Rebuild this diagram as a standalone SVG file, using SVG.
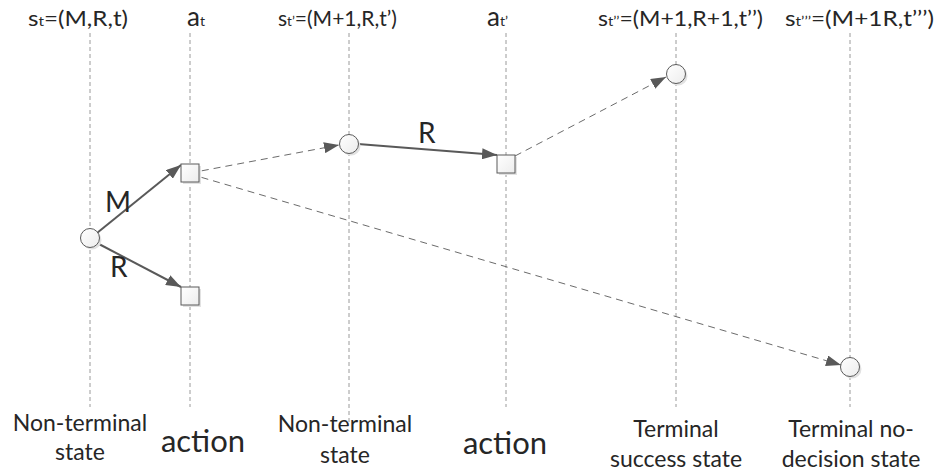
<svg xmlns="http://www.w3.org/2000/svg" width="938" height="475" viewBox="0 0 938 475">
<defs>
<marker id="ah" markerWidth="15" markerHeight="11" refX="15" refY="5.5" orient="auto" markerUnits="userSpaceOnUse">
<path d="M0,0 L15,5.5 L0,11 Z" fill="#595959"/>
</marker>
<linearGradient id="g" x1="0" y1="0" x2="1" y2="1">
<stop offset="0" stop-color="#ffffff"/>
<stop offset="1" stop-color="#ececec"/>
</linearGradient>
<style>
.t{font-family:Lato,"Liberation Sans",sans-serif;fill:#262626}
.top{font-size:22px}
.sub{font-size:14px}
.bl{font-size:23px;text-anchor:middle}
.act{font-size:31px;text-anchor:middle}
.lab{font-size:28px}
.vl{stroke:#9a9a9a;stroke-width:1;stroke-dasharray:4,3;fill:none}
.solid{stroke:#595959;stroke-width:2;fill:none;marker-end:url(#ah)}
.dash{stroke:#6b6b6b;stroke-width:1;stroke-dasharray:7,5;fill:none;marker-end:url(#ah)}
.nd{fill:url(#g);stroke:#5a5a5a;stroke-width:1}
.sh{fill:#e2e2e2}
</style>
</defs>
<g id="lifelines">
<line class="vl" x1="90" y1="33" x2="90" y2="407"/>
<line class="vl" x1="190" y1="33" x2="190" y2="407"/>
<line class="vl" x1="349" y1="33" x2="349" y2="425"/>
<line class="vl" x1="506" y1="33" x2="506" y2="407"/>
<line class="vl" x1="676" y1="33" x2="676" y2="407"/>
<line class="vl" x1="850" y1="33" x2="850" y2="407"/>
</g>
<g id="headers">
<text class="t top" x="28" y="26" textLength="100" lengthAdjust="spacingAndGlyphs">s<tspan class="sub">t</tspan>=(M,R,t)</text>
<text class="t" x="187" y="26"><tspan font-size="26">a</tspan><tspan class="sub">t</tspan></text>
<text class="t top" x="278" y="26" textLength="119" lengthAdjust="spacingAndGlyphs">s<tspan class="sub">t’</tspan>=(M+1,R,t’)</text>
<text class="t" x="487" y="26"><tspan font-size="26">a</tspan><tspan class="sub">t’</tspan></text>
<text class="t top" x="598" y="26" textLength="165" lengthAdjust="spacingAndGlyphs">s<tspan class="sub">t’’</tspan>=(M+1,R+1,t’’)</text>
<text class="t top" x="785" y="26" textLength="149" lengthAdjust="spacingAndGlyphs">s<tspan class="sub">t’’’</tspan>=(M+1R,t’’’)</text>
</g>
<g id="connectors">
<line class="solid" x1="97" y1="233" x2="181" y2="165"/>
<line class="solid" x1="97" y1="243" x2="181" y2="287"/>
<line class="dash" x1="190" y1="173" x2="339" y2="145"/>
<line class="dash" x1="190" y1="174" x2="841" y2="365"/>
<line class="solid" x1="358" y1="144" x2="497" y2="155"/>
<line class="dash" x1="515" y1="156" x2="666" y2="77"/>
</g>
<g id="edge-labels">
<text class="t lab" x="105" y="212">M</text>
<text class="t lab" x="110" y="277">R</text>
<text class="t lab" x="418" y="143">R</text>
</g>
<g id="s_t">
<circle class="sh" cx="92" cy="240" r="9.5"/>
<circle class="nd" cx="90" cy="238" r="9.5"/>
</g>
<g id="a_t_M">
<rect class="sh" x="183" y="166" width="18" height="18"/>
<rect class="nd" x="181" y="164" width="18" height="18"/>
</g>
<g id="a_t_R">
<rect class="sh" x="183" y="289" width="18" height="18"/>
<rect class="nd" x="181" y="287" width="18" height="18"/>
</g>
<g id="s_t1">
<circle class="sh" cx="351" cy="146" r="9.5"/>
<circle class="nd" cx="349" cy="144" r="9.5"/>
</g>
<g id="a_t1">
<rect class="sh" x="499" y="157" width="18" height="18"/>
<rect class="nd" x="497" y="155" width="18" height="18"/>
</g>
<g id="s_t2">
<circle class="sh" cx="678" cy="76" r="9.5"/>
<circle class="nd" cx="676" cy="74" r="9.5"/>
</g>
<g id="s_t3">
<circle class="sh" cx="852" cy="369" r="9.5"/>
<circle class="nd" cx="850" cy="367" r="9.5"/>
</g>
<g id="footers">
<text class="t bl" x="80" y="431">Non-terminal</text>
<text class="t bl" x="80" y="460">state</text>
<text class="t act" x="203" y="452">action</text>
<text class="t bl" x="345" y="432">Non-terminal</text>
<text class="t bl" x="345" y="463">state</text>
<text class="t act" x="505" y="454">action</text>
<text class="t bl" x="676" y="437">Terminal</text>
<text class="t bl" x="676" y="467">success state</text>
<text class="t bl" x="851" y="437">Terminal no-</text>
<text class="t bl" x="851" y="467">decision state</text>
</g>
</svg>
